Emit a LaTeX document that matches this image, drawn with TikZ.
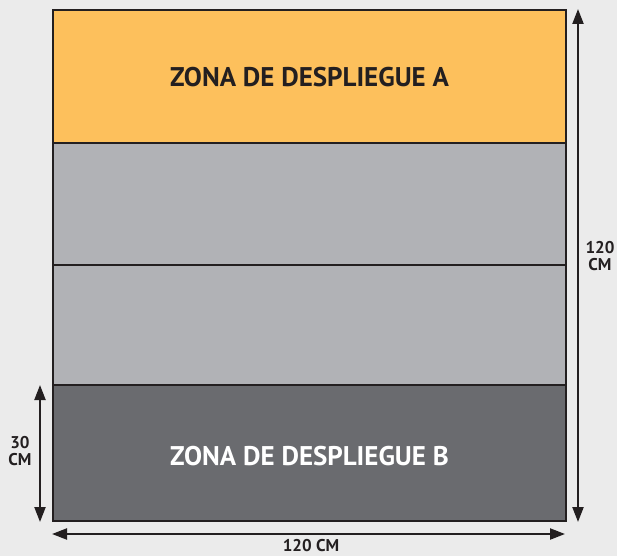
\documentclass[tikz,border=0pt]{standalone}
\usepackage{fontspec}
\setmainfont{PT Sans}
\usetikzlibrary{arrows.meta}
\definecolor{bg}{HTML}{EBEBEB}
\definecolor{zonea}{HTML}{FDC05C}
\definecolor{midgray}{HTML}{B1B2B6}
\definecolor{darkzone}{HTML}{6A6B6F}
\definecolor{ink}{HTML}{231F20}
\begin{document}
\begin{tikzpicture}[x=1pt,y=-1pt,
  band/.style={draw=ink,line width=2.2pt},
  dim/.style={draw=ink,line width=2.2pt,{Triangle[length=15pt,width=11pt]}-{Triangle[length=15pt,width=11pt]}},
  zonelabel/.style={font=\bfseries\fontsize{27}{30}\selectfont,text=white},
  dimlabel/.style={font=\bfseries\fontsize{17}{17}\selectfont,text=ink,align=center}]
\fill[bg] (0,0) rectangle (617,556);
\useasboundingbox (0,0) rectangle (617,556);
\path[band,fill=zonea] (53,10) rectangle (566,143);
\path[band,fill=midgray] (53,143) rectangle (566,265);
\path[band,fill=midgray] (53,265) rectangle (566,385);
\path[band,fill=darkzone] (53,385) rectangle (566,521);
\node[zonelabel,text=ink] (za) at (309.5,77) {ZONA DE DESPLIEGUE A};
\node[zonelabel] (zb) at (309.5,456) {ZONA DE DESPLIEGUE B};
\coordinate (rt) at (578,9);
\coordinate (rb) at (578,522);
\draw[dim] (rt) -- (rb);
\coordinate (lt) at (40,385);
\coordinate (lb) at (40,522);
\draw[dim] (lt) -- (lb);
\coordinate (bl) at (52,534);
\coordinate (br) at (565,534);
\draw[dim] (bl) -- (br);
\node[dimlabel] (h) at (600,256) {120\\CM};
\node[dimlabel] (s) at (20,451) {30\\CM};
\node[dimlabel] (w) at (311,546) {120 CM};
\end{tikzpicture}
\end{document}
